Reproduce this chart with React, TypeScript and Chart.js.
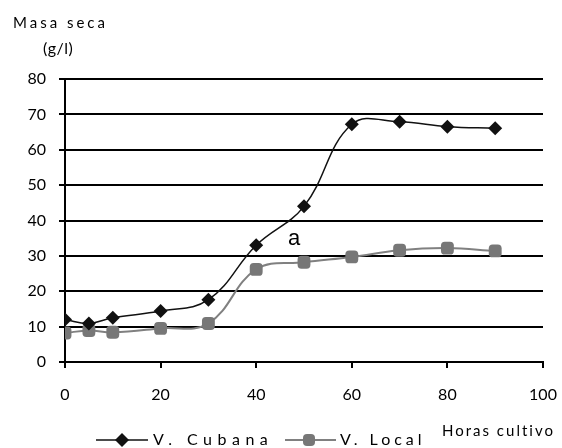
import React, { useEffect, useRef } from "react";
import { Chart, registerables } from "chart.js";

Chart.register(...registerables);

const horas = [0, 5, 10, 20, 30, 40, 50, 60, 70, 80, 90];
const cubana = [12, 10.9, 12.5, 14.4, 17.6, 33, 44, 67.2, 67.9, 66.5, 66.1];
const local = [8.2, 8.9, 8.4, 9.5, 10.9, 26.2, 28.2, 29.7, 31.6, 32.2, 31.4];
const yTicks = [0, 10, 20, 30, 40, 50, 60, 70, 80];
const xTicks = [0, 20, 40, 60, 80, 100];

const TICK_FONT = "Lato";

const textPlugin = {
  id: "texts",
  afterDraw(chart: any) {
    const ctx = chart.ctx as CanvasRenderingContext2D;
    ctx.save();
    ctx.fillStyle = "#000";
    ctx.textBaseline = "alphabetic";
    ctx.textAlign = "left";
    (ctx as any).letterSpacing = "3px";
    ctx.font = `15px ${TICK_FONT}`;
    ctx.fillText("Masa seca", 13, 28);
    (ctx as any).letterSpacing = "0.5px";
    ctx.font = `16px ${TICK_FONT}`;
    ctx.fillText("(g/l)", 43, 54);
    (ctx as any).letterSpacing = "0px";
    ctx.font = "22px 'Liberation Sans'";
    ctx.fillText("a", 288, 245);
    (ctx as any).letterSpacing = "2px";
    ctx.font = `15px ${TICK_FONT}`;
    ctx.textBaseline = "middle";
    ctx.fillText("Horas cultivo", 442, 431);

    // legend
    const ly = 440;
    ctx.lineWidth = 1.5;
    ctx.strokeStyle = "#111";
    ctx.beginPath();
    ctx.moveTo(96, ly);
    ctx.lineTo(148, ly);
    ctx.stroke();
    ctx.fillStyle = "#111";
    ctx.beginPath();
    ctx.moveTo(122 - 7, ly);
    ctx.lineTo(122, ly - 7);
    ctx.lineTo(122 + 7, ly);
    ctx.lineTo(122, ly + 7);
    ctx.closePath();
    ctx.fill();
    (ctx as any).letterSpacing = "5.5px";
    ctx.font = `16px ${TICK_FONT}`;
    ctx.fillStyle = "#000";
    ctx.fillText("V. Cubana", 153, ly);

    ctx.lineWidth = 2;
    ctx.strokeStyle = "#808080";
    ctx.beginPath();
    ctx.moveTo(285, ly);
    ctx.lineTo(336, ly);
    ctx.stroke();
    ctx.fillStyle = "#777";
    ctx.beginPath();
    (ctx as any).roundRect(309 - 6, ly - 6, 12, 12, 4);
    ctx.fill();
    ctx.fillStyle = "#000";
    (ctx as any).letterSpacing = "4px";
    ctx.fillText("V. Local", 340, ly);
    ctx.restore();
  },
};

export default function App() {
  const ref = useRef<HTMLCanvasElement>(null);
  useEffect(() => {
    document.body.style.margin = "0";
    const chart = new Chart(ref.current!, {
      type: "line",
      data: {
        datasets: [
          {
            label: "V. Cubana",
            data: horas.map((h, i) => ({ x: h, y: cubana[i] })),
            borderColor: "#111",
            backgroundColor: "#111",
            borderWidth: 1.5,
            pointStyle: "rectRot",
            pointRadius: 7,
            pointBorderWidth: 0,
            tension: 0.4,
          },
          {
            label: "V. Local",
            data: horas.map((h, i) => ({ x: h, y: local[i] })),
            borderColor: "#808080",
            backgroundColor: "#777",
            borderWidth: 2,
            pointStyle: "rectRounded",
            pointRadius: 7.5,
            pointBorderWidth: 0,
            tension: 0.4,
          },
        ],
      },
      options: {
        animation: false,
        responsive: false,
        devicePixelRatio: 1,
        layout: { padding: { left: 0, right: 19, top: 79, bottom: 0 } },
        plugins: { legend: { display: false }, tooltip: { enabled: false } },
        scales: {
          x: {
            type: "linear",
            min: 0,
            max: 100,
            afterBuildTicks: (s: any) => {
              s.ticks = xTicks.map((v) => ({ value: v }));
            },
            afterFit: (s: any) => {
              s.height = 86;
              s.paddingRight = 0;
              s.paddingLeft = 0;
            },
            border: { display: true, color: "#000", width: 2 },
            grid: {
              drawOnChartArea: false,
              drawTicks: true,
              tickLength: 6,
              tickColor: "#000",
              lineWidth: 2,
            },
            ticks: {
              color: "#000",
              font: { family: TICK_FONT, size: 16 },
              padding: 17,
              maxRotation: 0,
              autoSkip: false,
            },
          },
          y: {
            min: 0,
            max: 80,
            afterBuildTicks: (s: any) => {
              s.ticks = yTicks.map((v) => ({ value: v }));
            },
            afterFit: (s: any) => {
              s.width = 65;
            },
            border: { display: true, color: "#000", width: 2 },
            grid: {
              color: "#000",
              tickColor: "#000",
              lineWidth: 2,
              tickLength: 6,
            },
            ticks: {
              color: "#000",
              font: { family: TICK_FONT, size: 16 },
              padding: 13,
              autoSkip: false,
            },
          },
        },
      },
      plugins: [textPlugin],
    });
    return () => chart.destroy();
  }, []);
  return <canvas ref={ref} width={562} height={448} style={{ display: "block" }} />;
}
